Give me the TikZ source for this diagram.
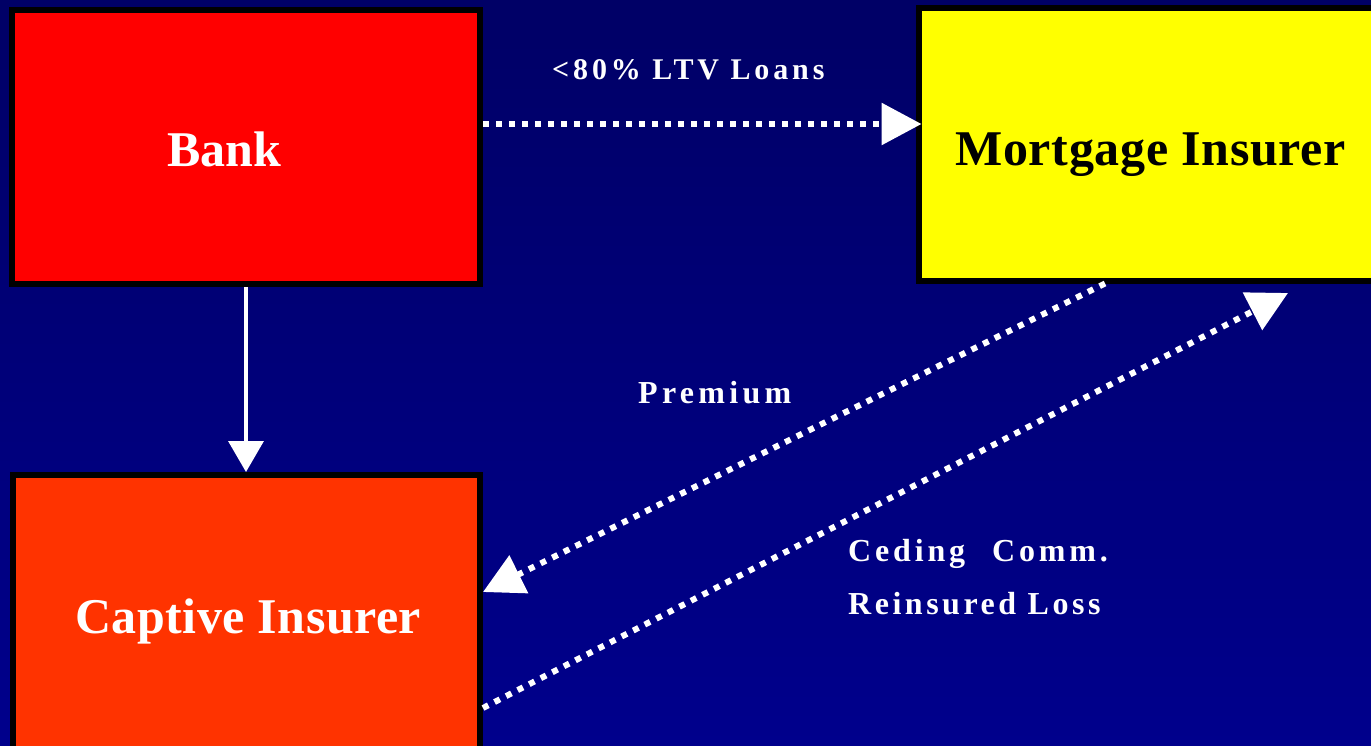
\documentclass[tikz,border=0pt]{standalone}
\usepackage{fontspec}
\setmainfont{Liberation Serif}
\usetikzlibrary{arrows.meta}
\definecolor{bgtop}{RGB}{0,0,102}
\definecolor{bgbot}{RGB}{0,0,140}
\definecolor{bankred}{RGB}{255,0,0}
\definecolor{captred}{RGB}{255,51,0}
\definecolor{mortyel}{RGB}{255,255,0}
\begin{document}
\begin{tikzpicture}[x=1pt,y=-1pt,
  box/.style={rectangle, draw=black, line width=6pt, inner sep=0pt, outer sep=3pt},
  bigtext/.style={font=\fontsize{50}{56}\selectfont\bfseries, inner sep=0pt, anchor=base west},
  lbl/.style={text=white, inner sep=0pt, anchor=base west},
  dotarrow/.style={draw=white, line width=6pt, dash pattern=on 6pt off 7pt, -{Triangle[width=41pt,length=40pt]}},
  solidarrow/.style={draw=white, line width=3.5pt, -{Triangle[width=35pt,length=31pt]}}
]
\useasboundingbox (0,0) rectangle (1371,745);
\fill[top color=bgtop,bottom color=bgbot] (0,0) rectangle (1371,745);
\begin{scope}
\clip (0,0) rectangle (1371,745);
\node[box, fill=bankred, minimum width=468pt, minimum height=274pt] (bank) at (246,147) {};
\node[box, fill=mortyel, minimum width=511.5pt, minimum height=272.5pt] (mort) at (1174.25,144.25) {};
\node[box, fill=captred, minimum width=467pt, minimum height=325pt] (capt) at (246.5,637.5) {};
\end{scope}
\node[bigtext, text=white] (bankT) at (167,166) {Bank};
\node[bigtext, text=black] (mortT) at (955,165) {\addfontfeature{LetterSpace=1.4}Mortgage Insurer};
\node[bigtext, text=white] (captT) at (75,633) {\addfontfeature{LetterSpace=1}Captive Insurer};
\node[lbl, font=\fontsize{30}{35}\selectfont\bfseries\addfontfeature{LetterSpace=13}] (ltvT) at (552,79) {<80\% LTV Loans};
\node[lbl, font=\fontsize{32}{38}\selectfont\bfseries\addfontfeature{LetterSpace=13.4}] (premT) at (638,403) {Premium};
\node[lbl, font=\fontsize{32}{38}\selectfont\bfseries\addfontfeature{LetterSpace=12}] (cedT) at (848,561) {Ceding\hspace{27pt}Comm.};
\node[lbl, font=\fontsize{32}{38}\selectfont\bfseries\addfontfeature{LetterSpace=11}] (reinT) at (848,614) {Reinsured Loss};
\draw[solidarrow] (bank.south) -- (bank.south |- capt.north);
\coordinate (ltvy) at (700,124);
\draw[dotarrow] (bank.east |- ltvy) -- ([xshift=6pt]mort.west |- ltvy);
\coordinate (premS) at (1105,0);
\coordinate (premE) at (0,592);
\draw[dotarrow] (mort.south -| premS) -- (capt.east |- premE);
\coordinate (reinS) at (0,708);
\coordinate (rtip) at (1288,293);
\draw[dotarrow] (capt.east |- reinS) -- (rtip);
\end{tikzpicture}
\end{document}
